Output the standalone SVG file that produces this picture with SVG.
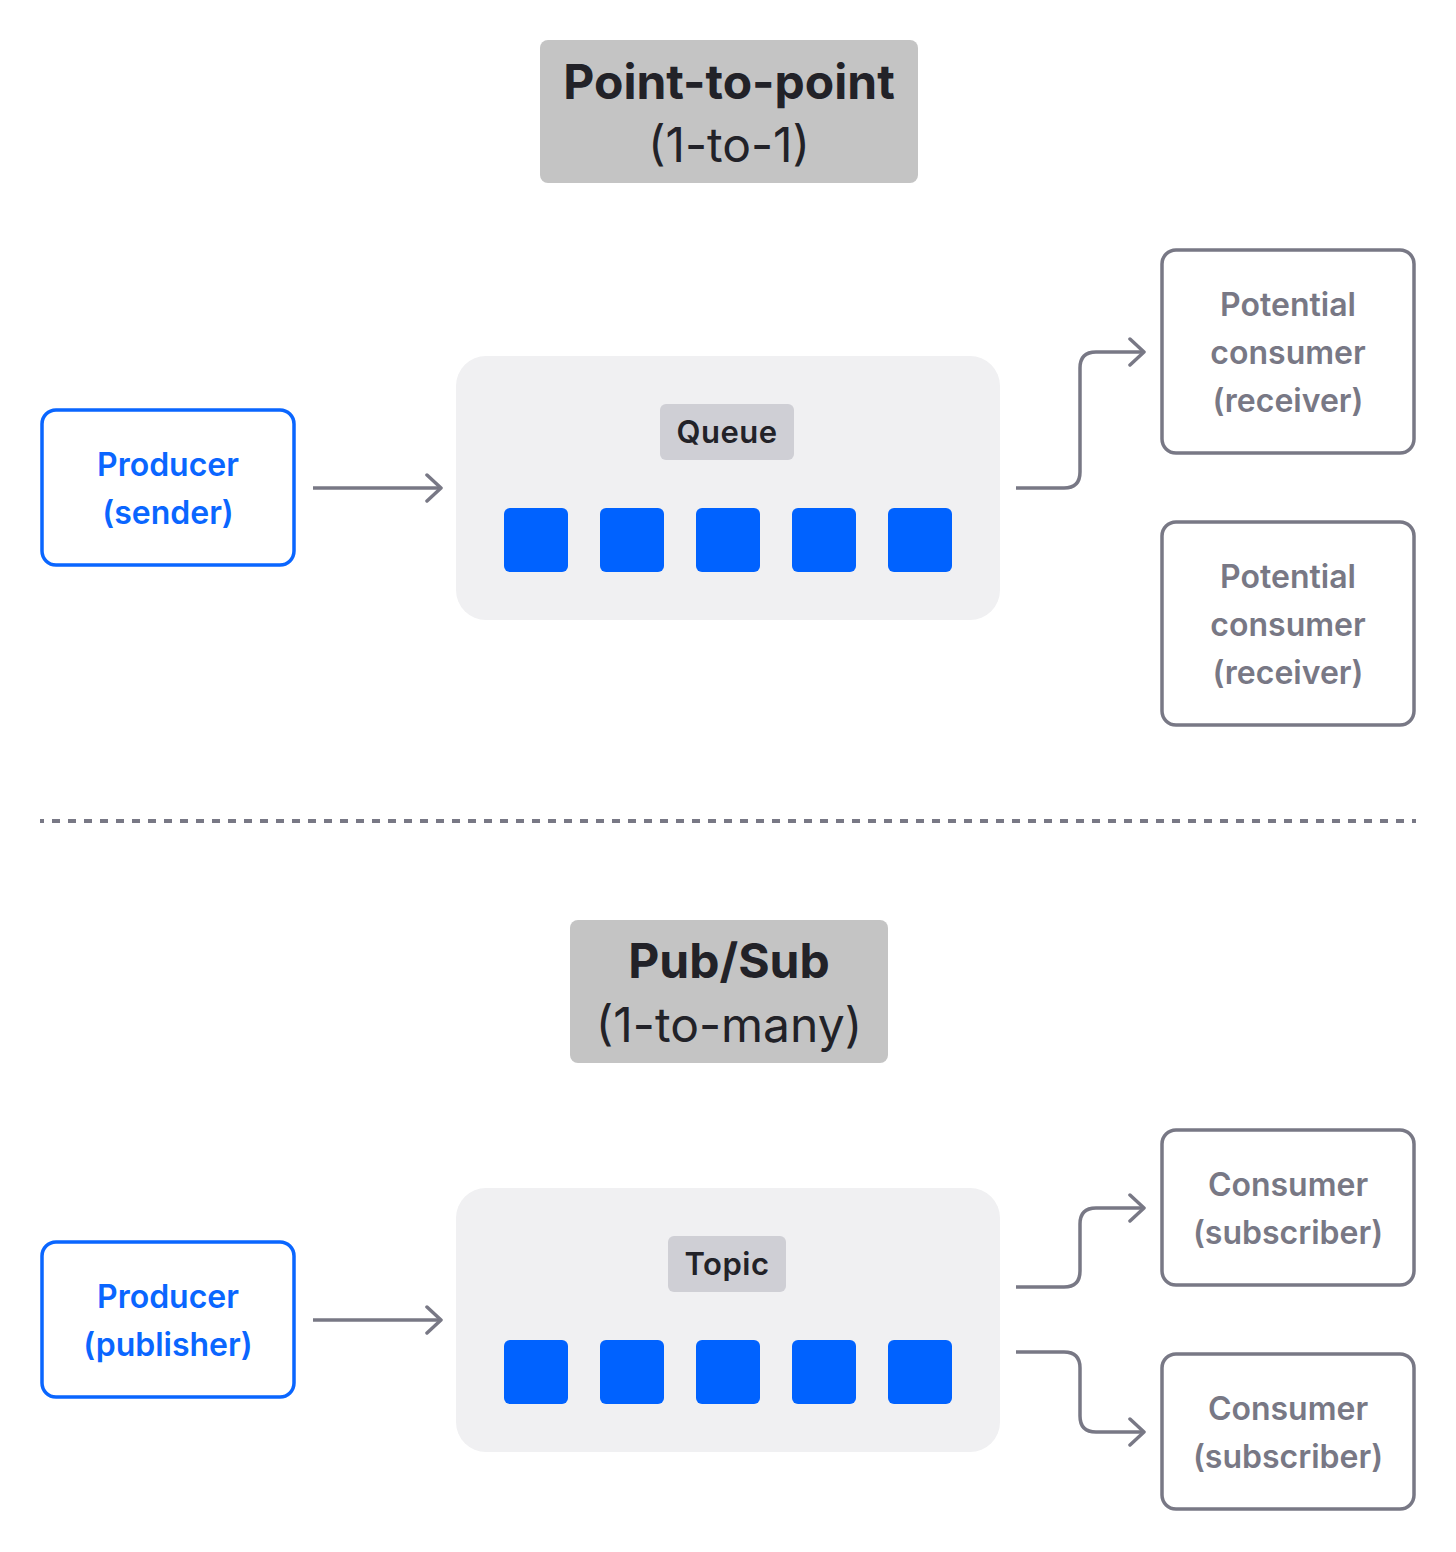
<svg xmlns="http://www.w3.org/2000/svg" width="1456" height="1552" viewBox="0 0 1456 1552">
<defs>
<style>
.title{fill:#c4c4c4}
.tb{font-family:Inter,"Noto Sans",sans-serif;font-weight:700;font-size:48px;fill:#222228;text-anchor:middle}
.tr{font-family:Inter,"Noto Sans",sans-serif;font-weight:400;font-size:48px;fill:#222228;text-anchor:middle}
.prod{fill:#fff;stroke:#0a66ff;stroke-width:3.5}
.pt{font-family:Inter,"Noto Sans",sans-serif;font-weight:600;font-size:32px;fill:#0a66ff;text-anchor:middle}
.cons{fill:#fff;stroke:#787885;stroke-width:3.5}
.ct{font-family:Inter,"Noto Sans",sans-serif;font-weight:600;font-size:32px;fill:#787885;text-anchor:middle}
.cont{fill:#f0f0f2}
.lab{fill:#cfcfd5}
.lt{font-family:Inter,"Noto Sans",sans-serif;font-weight:600;font-size:31px;letter-spacing:0.5px;fill:#222228;text-anchor:middle}
.msg{fill:#0062ff}
.conn{fill:none;stroke:#787885;stroke-width:3.5;marker-end:url(#arr)}
</style>
<marker id="arr" viewBox="-16 -15 20 30" refX="0" refY="0" markerWidth="20" markerHeight="30" markerUnits="userSpaceOnUse" orient="auto">
<path d="M-14,-13 L0,0 L-14,13" fill="none" stroke="#787885" stroke-width="3.5" stroke-linecap="round" stroke-linejoin="round"/>
</marker>
</defs>
<rect width="1456" height="1552" fill="#fff"/>

<g id="title-p2p">
<rect class="title" x="540" y="40" width="378" height="143" rx="8"/>
<text class="tb" x="729" y="99">Point-to-point</text>
<text class="tr" x="729" y="162">(1-to-1)</text>
</g>

<g id="producer-sender">
<rect class="prod" x="42" y="410" width="252" height="155" rx="14"/>
<text class="pt" x="168" y="476">Producer</text>
<text class="pt" x="168" y="524">(sender)</text>
</g>

<g id="queue">
<rect class="cont" x="456" y="356" width="544" height="264" rx="30"/>
<rect class="lab" x="660" y="404" width="134" height="56" rx="6"/>
<text class="lt" x="727" y="443">Queue</text>
<rect class="msg" x="504" y="508" width="64" height="64" rx="6"/>
<rect class="msg" x="600" y="508" width="64" height="64" rx="6"/>
<rect class="msg" x="696" y="508" width="64" height="64" rx="6"/>
<rect class="msg" x="792" y="508" width="64" height="64" rx="6"/>
<rect class="msg" x="888" y="508" width="64" height="64" rx="6"/>
</g>

<g id="consumer-receiver-1">
<rect class="cons" x="1162" y="250" width="252" height="203" rx="14"/>
<text class="ct" x="1288" y="316">Potential</text>
<text class="ct" x="1288" y="364">consumer</text>
<text class="ct" x="1288" y="412">(receiver)</text>
</g>

<g id="consumer-receiver-2">
<rect class="cons" x="1162" y="522" width="252" height="203" rx="14"/>
<text class="ct" x="1288" y="588">Potential</text>
<text class="ct" x="1288" y="636">consumer</text>
<text class="ct" x="1288" y="684">(receiver)</text>
</g>

<g id="divider">
<line x1="40" y1="821" x2="1416" y2="821" stroke="#787885" stroke-width="4" stroke-dasharray="8 8" stroke-dashoffset="4"/>
</g>

<g id="title-pubsub">
<rect class="title" x="570" y="920" width="318" height="143" rx="8"/>
<text class="tb" x="729" y="978">Pub/Sub</text>
<text class="tr" x="729" y="1042">(1-to-many)</text>
</g>

<g id="producer-publisher">
<rect class="prod" x="42" y="1242" width="252" height="155" rx="14"/>
<text class="pt" x="168" y="1308">Producer</text>
<text class="pt" x="168" y="1356">(publisher)</text>
</g>

<g id="topic">
<rect class="cont" x="456" y="1188" width="544" height="264" rx="30"/>
<rect class="lab" x="668" y="1236" width="118" height="56" rx="6"/>
<text class="lt" x="727" y="1275">Topic</text>
<rect class="msg" x="504" y="1340" width="64" height="64" rx="6"/>
<rect class="msg" x="600" y="1340" width="64" height="64" rx="6"/>
<rect class="msg" x="696" y="1340" width="64" height="64" rx="6"/>
<rect class="msg" x="792" y="1340" width="64" height="64" rx="6"/>
<rect class="msg" x="888" y="1340" width="64" height="64" rx="6"/>
</g>

<g id="consumer-subscriber-1">
<rect class="cons" x="1162" y="1130" width="252" height="155" rx="14"/>
<text class="ct" x="1288" y="1196">Consumer</text>
<text class="ct" x="1288" y="1244">(subscriber)</text>
</g>

<g id="consumer-subscriber-2">
<rect class="cons" x="1162" y="1354" width="252" height="155" rx="14"/>
<text class="ct" x="1288" y="1420">Consumer</text>
<text class="ct" x="1288" y="1468">(subscriber)</text>
</g>

<g id="connectors">
<path class="conn" d="M313,488 H441"/>
<path class="conn" d="M1016,488 H1064 Q1080,488 1080,472 V368 Q1080,352 1096,352 H1144"/>
<path class="conn" d="M313,1320 H441"/>
<path class="conn" d="M1016,1287 H1064 Q1080,1287 1080,1271 V1224 Q1080,1208 1096,1208 H1144"/>
<path class="conn" d="M1016,1352 H1064 Q1080,1352 1080,1368 V1416 Q1080,1432 1096,1432 H1144"/>
</g>
</svg>
